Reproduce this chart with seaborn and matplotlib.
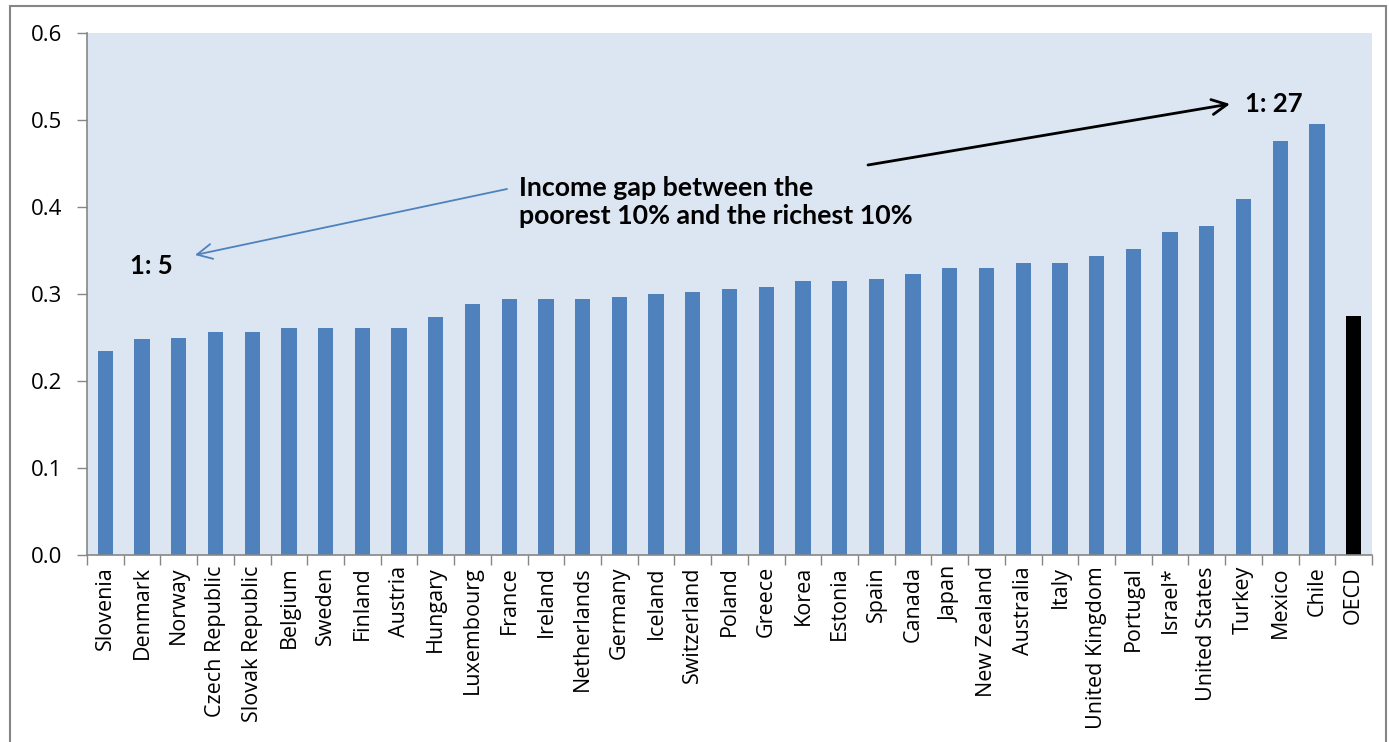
import matplotlib
matplotlib.use("Agg")
import matplotlib.pyplot as plt
from matplotlib.patches import Rectangle
import numpy as np
import pandas as pd
import seaborn as sns

# Gini coefficient of disposable income, late 2000s
countries = [
    "Slovenia", "Denmark", "Norway", "Czech Republic", "Slovak Republic",
    "Belgium", "Sweden", "Finland", "Austria", "Hungary", "Luxembourg",
    "France", "Ireland", "Netherlands", "Germany", "Iceland", "Switzerland",
    "Poland", "Greece", "Korea", "Estonia", "Spain", "Canada", "Japan",
    "New Zealand", "Australia", "Italy", "United Kingdom", "Portugal",
    "Israel*", "United States", "Turkey", "Mexico", "Chile", "OECD",
]
gini = [
    0.235, 0.248, 0.250, 0.256, 0.256,
    0.261, 0.261, 0.261, 0.261, 0.273, 0.288,
    0.294, 0.294, 0.294, 0.297, 0.300, 0.302,
    0.306, 0.308, 0.315, 0.315, 0.317, 0.323, 0.330,
    0.330, 0.336, 0.336, 0.344, 0.352,
    0.371, 0.378, 0.409, 0.476, 0.495, 0.275,
]
y_ticks = [0.0, 0.1, 0.2, 0.3, 0.4, 0.5, 0.6]

BLUE = "#4F81BD"
OECD_BLACK = "#000000"
PLOT_BG = "#DCE6F2"
GREY = "#868686"

df = pd.DataFrame({"country": countries, "gini": gini})
colors = [OECD_BLACK if c == "OECD" else BLUE for c in countries]

sns.set_theme(style="white")
plt.rcParams["font.family"] = ["Open Sans", "DejaVu Sans"]
BOLD_FONT = ["Lato", "DejaVu Sans"]

W, H = 1389, 742
fig = plt.figure(figsize=(W / 100, H / 100), dpi=100)
fig.patch.set_facecolor("white")

left_px, right_px, top_px, bottom_px = 87, 1372, 33, 555
ax = fig.add_axes([left_px / W, 1 - bottom_px / H,
                   (right_px - left_px) / W, (bottom_px - top_px) / H])
ax.set_facecolor(PLOT_BG)

sns.barplot(data=df, x="country", y="gini", hue="country", palette=colors,
            legend=False, width=0.42, saturation=1, linewidth=0, ax=ax)

ax.set_xlim(-0.5, len(countries) - 0.5)
ax.set_ylim(0, 0.6)
ax.set_yticks(y_ticks)
ax.set_yticklabels([f"{v:.1f}" for v in y_ticks], fontsize=16, color="black")
ax.set_xlabel("")
ax.set_ylabel("")

# category labels rotated, boundary tick marks below the axis
ax.set_xticks(range(len(countries)))
ax.set_xticklabels(countries, rotation=90, fontsize=15.5, color="black",
                   va="top", ha="center")
ax.tick_params(axis="x", which="major", length=0, pad=8)
ax.set_xticks(np.arange(-0.5, len(countries), 1), minor=True)
ax.tick_params(axis="x", which="minor", length=7, width=1, color=GREY,
               direction="out", bottom=True)
ax.tick_params(axis="y", which="major", length=7, width=1, color=GREY,
               direction="out", left=True, pad=11)

for side in ["top", "right"]:
    ax.spines[side].set_visible(False)
for side in ["left", "bottom"]:
    ax.spines[side].set_visible(True)
    ax.spines[side].set_color(GREY)
    ax.spines[side].set_linewidth(1.2)


def px(x, y):
    """Pixel position inside the plot area -> axes fraction."""
    return ((x - left_px) / (right_px - left_px),
            (bottom_px - y) / (bottom_px - top_px))


ax.text(*px(519, 176), "Income gap between the\npoorest 10% and the richest 10%",
        transform=ax.transAxes, fontsize=19.3, fontweight="bold",
        family=BOLD_FONT, ha="left", va="top", linespacing=1.2, color="black")
ax.text(*px(151, 266), "1: 5", transform=ax.transAxes, fontsize=18.5,
        fontweight="bold", family=BOLD_FONT, ha="center", va="center",
        color="black")
ax.text(*px(1274, 104), "1: 27", transform=ax.transAxes, fontsize=18.5,
        fontweight="bold", family=BOLD_FONT, ha="center", va="center",
        color="black")

ax.annotate("", xy=px(195, 255), xytext=px(507, 189),
            xycoords="axes fraction", textcoords="axes fraction",
            arrowprops=dict(arrowstyle="->,head_length=0.9,head_width=0.45",
                            color=BLUE, lw=1.3, shrinkA=0, shrinkB=0))
ax.annotate("", xy=px(1230, 104), xytext=px(868, 165),
            xycoords="axes fraction", textcoords="axes fraction",
            arrowprops=dict(arrowstyle="->,head_length=0.9,head_width=0.45",
                            color="black", lw=2, shrinkA=0, shrinkB=0))

# outer chart frame
fig.patches.append(Rectangle((10 / W, -0.05), (1386 - 10) / W, 1.05 - 6 / H,
                             transform=fig.transFigure, fill=False,
                             edgecolor=GREY, linewidth=1.5, zorder=0))

fig.savefig("out.png", dpi=100, facecolor="white")
